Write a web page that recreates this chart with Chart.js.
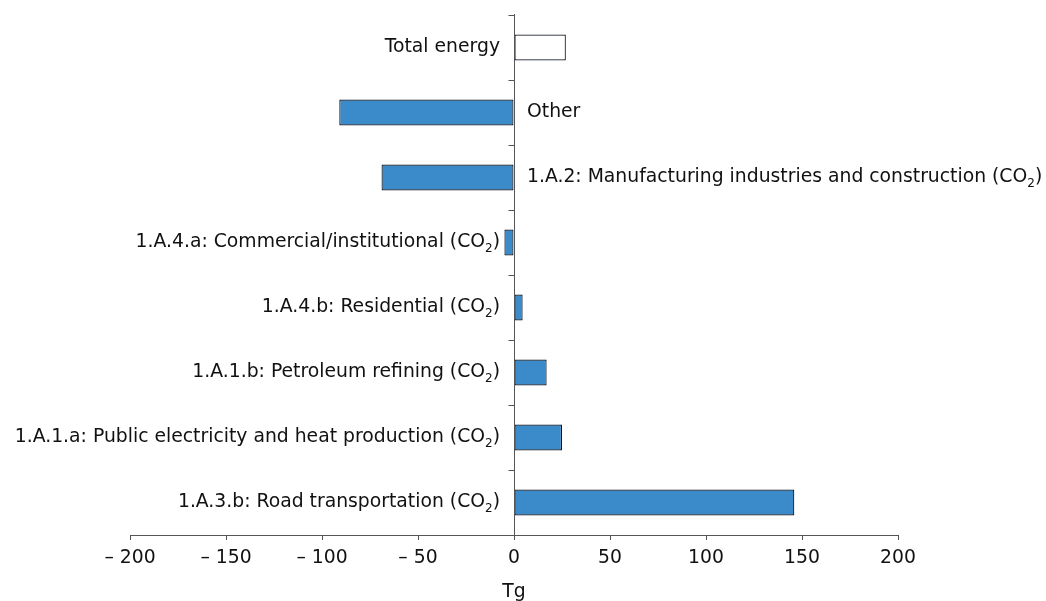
<!DOCTYPE html>
<html>
<head>
<meta charset="utf-8">
<script src="https://cdn.jsdelivr.net/npm/chart.js@4.4.1/dist/chart.umd.min.js"></script>
<style>
  html, body { margin: 0; padding: 0; background: #fff; }
  #wrap { width: 1046px; height: 601px; position: relative; }
</style>
</head>
<body>
<div id="wrap"><canvas id="c" width="1046" height="601"></canvas></div>
<script>
// Emission changes by source category (Tg)
const categories = [
  'Total energy',
  'Other',
  '1.A.2: Manufacturing industries and construction (CO₂)',
  '1.A.4.a: Commercial/institutional (CO₂)',
  '1.A.4.b: Residential (CO₂)',
  '1.A.1.b: Petroleum refining (CO₂)',
  '1.A.1.a: Public electricity and heat production (CO₂)',
  '1.A.3.b: Road transportation (CO₂)'
];
const changeTg = [27, -91, -69, -5, 4.5, 17, 25, 146];
const xTickValues = [-200, -150, -100, -50, 0, 50, 100, 150, 200];
const axisTitle = 'Tg';

const FONT = '"DejaVu Sans", Verdana, sans-serif';
const FONT_SIZE = 18.8;
const TEXT = '#111111';
const AXIS = '#555555';

// Draw a label, rendering "₂" as a lowered, smaller "2"
function drawRichLabel(ctx, text, x, y, align) {
  const size = FONT_SIZE, sub = 12;
  const parts = text.split('₂');
  const segs = [];
  parts.forEach((p, i) => {
    if (p) segs.push({ t: p, sub: false });
    if (i < parts.length - 1) segs.push({ t: '2', sub: true });
  });
  let total = 0;
  segs.forEach(s => {
    ctx.font = (s.sub ? sub : size) + 'px ' + FONT;
    s.w = ctx.measureText(s.t).width;
    total += s.w;
  });
  let cx = align === 'right' ? x - total : x;
  ctx.textAlign = 'left';
  ctx.textBaseline = 'middle';
  ctx.fillStyle = TEXT;
  segs.forEach(s => {
    ctx.font = (s.sub ? sub : size) + 'px ' + FONT;
    ctx.fillText(s.t, cx, s.sub ? y + 6 : y);
    cx += s.w;
  });
}

const labelsAndAxis = {
  id: 'labelsAndAxis',
  afterDatasetsDraw(chart) {
    const ctx = chart.ctx;
    const xs = chart.scales.x, ys = chart.scales.y;
    const x0 = xs.getPixelForValue(0);
    const area = chart.chartArea;
    ctx.save();
    // vertical zero axis with ticks between categories
    ctx.strokeStyle = AXIS;
    ctx.lineWidth = 1;
    const px = Math.round(x0) + 0.5;
    ctx.beginPath();
    ctx.moveTo(px, area.top - 1);
    ctx.lineTo(px, area.bottom + 5);
    const n = categories.length;
    const step = (ys.getPixelForValue(n - 1) - ys.getPixelForValue(0)) / (n - 1);
    for (let i = 0; i < n; i++) {
      const ty = Math.round(ys.getPixelForValue(i) - step / 2) + 0.5;
      ctx.moveTo(px - 6, ty);
      ctx.lineTo(px, ty);
    }
    ctx.stroke();
    // category labels beside the zero axis; long negative bars get theirs on the right
    categories.forEach((c, i) => {
      const y = ys.getPixelForValue(i);
      if (changeTg[i] > -20) drawRichLabel(ctx, c, x0 - 14, y, 'right');
      else drawRichLabel(ctx, c, x0 + 13, y, 'left');
    });
    ctx.restore();
  }
};

new Chart(document.getElementById('c'), {
  type: 'bar',
  data: {
    labels: categories,
    datasets: [{
      data: changeTg,
      backgroundColor: changeTg.map((v, i) => i === 0 ? '#ffffff' : '#3b8bcb'),
      borderColor: '#0d1620',
      borderWidth: 1.2,
      borderSkipped: false,
      categoryPercentage: 1,
      barPercentage: 0.4
    }]
  },
  options: {
    indexAxis: 'y',
    responsive: false,
    animation: false,
    devicePixelRatio: 1,
    layout: { padding: { left: 130, right: 148, top: 15, bottom: 0 } },
    plugins: { legend: { display: false }, tooltip: { enabled: false } },
    scales: {
      x: {
        type: 'linear',
        min: -200, max: 200,
        afterBuildTicks(scale) { scale.ticks = xTickValues.map(v => ({ value: v })); },
        afterFit(scale) { scale.height = 66; },
        grid: { drawOnChartArea: false, drawTicks: true, tickLength: 5, color: AXIS, lineWidth: 1 },
        border: { display: true, color: AXIS, width: 1 },
        ticks: {
          color: TEXT,
          padding: 7,
          maxRotation: 0,
          font: { family: FONT, size: FONT_SIZE },
          callback: v => v < 0 ? '– ' + Math.abs(v) : String(v)
        },
        title: {
          display: true, text: axisTitle, color: TEXT,
          font: { family: FONT, size: FONT_SIZE },
          padding: { top: 0, bottom: -2 }
        }
      },
      y: { display: false }
    }
  },
  plugins: [labelsAndAxis]
});
</script>
</body>
</html>
